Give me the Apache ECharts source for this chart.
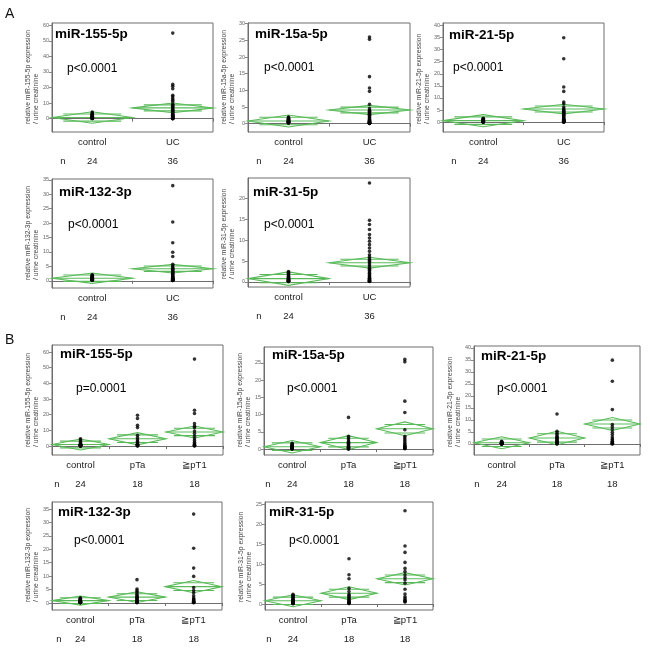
<!DOCTYPE html>
<html><head><meta charset="utf-8">
<script src="https://cdn.jsdelivr.net/npm/echarts@6/dist/echarts.min.js"></script>
<style>html,body{margin:0;padding:0;background:#fff}#c{width:650px;height:648px}</style>
</head><body><div id="c"></div>
<script>
// ---------------- DATA ----------------
const catsA = ['control', 'UC'];
const catsB = ['control', 'pTa', '≧pT1'];
const nA = ['24', '36'];
const nB = ['24', '18', '18'];

const ticks60 = [0, 10, 20, 30, 40, 50, 60];
const ticks30 = [0, 5, 10, 15, 20, 25, 30];
const ticks40 = [0, 5, 10, 15, 20, 25, 30, 35, 40];
const ticks35 = [0, 5, 10, 15, 20, 25, 30, 35];
const ticks20 = [0, 5, 10, 15, 20];
const ticks25 = [0, 5, 10, 15, 20, 25];

// Panel A: miR-155-5p
const a155_control = [4.3, 3.6, 3.2, 2.8, 2.4, 2.0, 1.8, 1.5, 1.3, 1.2, 1.0, 0.9, 0.8, 0.7, 0.6, 0.5, 0.45, 0.4, 0.3, 0.25, 0.2, 0.15, 0.1, 0.05];
const a155_UC = [55, 22, 20.8, 19.2, 15, 14, 12.8, 11.8, 10.7, 9.2, 8.5, 7.9, 7.2, 6.4, 5.8, 5.4, 4.8, 4.3, 3.8, 3.2, 2.8, 2.5, 2.1, 1.8, 1.5, 1.1, 0.9, 0.7, 0.5, 0.4, 0.3, 0.2, 0.1, 0.05, 0.02, 0];
const a155_mean = [0.7, 6.9], a155_lo = [-3.0, 3.8], a155_hi = [4.4, 10.0];

// Panel A: miR-15a-5p
const a15a_control = [2.0, 1.8, 1.6, 1.5, 1.4, 1.3, 1.2, 1.1, 1.0, 0.9, 0.85, 0.8, 0.7, 0.65, 0.6, 0.55, 0.5, 0.45, 0.4, 0.35, 0.3, 0.25, 0.2, 0.2];
const a15a_UC = [26, 25.3, 14.1, 10.7, 9.7, 5.8, 4.5, 4.0, 3.7, 3.5, 3.2, 3.0, 2.8, 2.5, 2.3, 2.0, 1.8, 1.5, 1.3, 1.0, 0.9, 0.8, 0.7, 0.6, 0.5, 0.45, 0.4, 0.35, 0.3, 0.25, 0.2, 0.2, 0.15, 0.1, 0.1, 0.05];
const a15a_mean = [0.8, 4.1], a15a_lo = [-1.0, 2.7], a15a_hi = [2.6, 5.5];

// Panel A: miR-21-5p
const a21_control = [1.6, 1.4, 1.2, 1.0, 0.9, 0.8, 0.7, 0.6, 0.55, 0.5, 0.45, 0.4, 0.35, 0.3, 0.25, 0.2, 0.2, 0.15, 0.1, 0.1, 0.05, 0.05, 0, 0];
const a21_UC = [34.9, 26.2, 14.5, 12.7, 8.3, 7.6, 6.2, 5.5, 5.0, 4.8, 4.4, 4.1, 3.8, 3.4, 3.1, 2.8, 2.5, 2.1, 1.8, 1.4, 1.2, 1.0, 0.8, 0.7, 0.6, 0.5, 0.4, 0.35, 0.3, 0.25, 0.2, 0.15, 0.1, 0.05, 0.02, 0];
const a21_mean = [0.6, 5.4], a21_lo = [-1.9, 3.4], a21_hi = [3.1, 7.4];

// Panel A: miR-132-3p
const a132_control = [2.1, 1.9, 1.7, 1.5, 1.4, 1.3, 1.2, 1.1, 1.0, 0.9, 0.8, 0.7, 0.65, 0.6, 0.55, 0.5, 0.45, 0.4, 0.35, 0.3, 0.3, 0.25, 0.2, 0.2];
const a132_UC = [33, 20.4, 13.2, 9.9, 8.4, 5.7, 5.2, 4.6, 4.3, 4.0, 3.7, 3.4, 3.1, 2.9, 2.6, 2.3, 2.0, 1.7, 1.5, 1.3, 1.1, 1.0, 0.9, 0.8, 0.7, 0.6, 0.5, 0.45, 0.4, 0.35, 0.3, 0.25, 0.2, 0.15, 0.1, 0.1];
const a132_mean = [0.9, 4.2], a132_lo = [-0.9, 2.7], a132_hi = [2.7, 5.7];

// Panel A: miR-31-5p
const a31_control = [2.5, 2.3, 2.1, 1.9, 1.7, 1.5, 1.35, 1.2, 1.1, 0.95, 0.85, 0.75, 0.65, 0.55, 0.5, 0.45, 0.4, 0.35, 0.3, 0.25, 0.2, 0.15, 0.15, 0.1];
const a31_UC = [23.6, 14.7, 13.7, 12.5, 11.3, 10.5, 9.7, 8.9, 8.1, 7.3, 6.5, 6.0, 5.5, 5.2, 4.9, 4.5, 4.1, 3.7, 3.3, 3.0, 2.8, 2.4, 2.1, 1.8, 1.5, 1.3, 1.0, 0.9, 0.8, 0.6, 0.5, 0.4, 0.3, 0.2, 0.2, 0.1];
const a31_mean = [0.8, 4.6], a31_lo = [-0.8, 3.3], a31_hi = [2.4, 5.9];

// Panel B: miR-155-5p
const b155_control = [4.7, 4.0, 3.2, 2.6, 2.0, 1.5, 1.3, 1.1, 1.0, 0.9, 0.8, 0.7, 0.6, 0.5, 0.45, 0.4, 0.35, 0.3, 0.25, 0.2, 0.15, 0.1, 0.05, 0];
const b155_pTa = [19.7, 17.6, 13.3, 11.8, 6.9, 5.4, 4.1, 3.0, 2.2, 1.5, 1.2, 1.0, 0.8, 0.6, 0.4, 0.3, 0.2, 0.1];
const b155_pT1 = [55.5, 22.9, 20.8, 14.3, 12.6, 11.8, 9.6, 8.0, 6.2, 4.7, 3.5, 2.4, 1.5, 1.0, 0.6, 0.4, 0.2, 0.1];
const b155_mean = [1.0, 4.7, 9.0], b155_lo = [-2.5, 0.8, 5.2], b155_hi = [4.5, 8.6, 12.8];

// Panel B: miR-15a-5p
const b15a_control = [1.7, 1.5, 1.25, 1.1, 1.0, 0.9, 0.8, 0.75, 0.7, 0.6, 0.55, 0.5, 0.45, 0.4, 0.35, 0.3, 0.3, 0.25, 0.2, 0.2, 0.15, 0.1, 0.1, 0.05];
const b15a_pTa = [9.2, 3.7, 3.2, 2.7, 2.2, 1.9, 1.7, 1.5, 1.25, 1.0, 0.8, 0.6, 0.5, 0.4, 0.3, 0.2, 0.1, 0];
const b15a_pT1 = [26, 25.3, 13.9, 10.6, 5.6, 3.7, 3.2, 2.7, 2.2, 1.7, 1.25, 1.0, 0.8, 0.6, 0.4, 0.3, 0.2, 0.1];
const b15a_mean = [0.7, 1.9, 5.9], b15a_lo = [-1.1, -0.1, 3.9], b15a_hi = [2.5, 3.9, 7.9];

// Panel B: miR-21-5p
const b21_control = [1.1, 0.9, 0.8, 0.7, 0.6, 0.55, 0.5, 0.45, 0.4, 0.35, 0.3, 0.3, 0.25, 0.2, 0.2, 0.15, 0.1, 0.1, 0.05, 0.05, 0, 0, 0, 0];
const b21_pTa = [12.5, 5.3, 4.6, 3.9, 3.2, 2.8, 2.5, 2.1, 1.8, 1.4, 1.1, 0.8, 0.6, 0.4, 0.3, 0.2, 0.1, 0];
const b21_pT1 = [34.9, 26.1, 14.3, 8.1, 7.1, 6.0, 4.9, 3.9, 2.9, 2.1, 1.6, 1.1, 0.8, 0.5, 0.3, 0.2, 0.1, 0];
const b21_mean = [0.5, 2.5, 8.3], b21_lo = [-2.0, -0.3, 5.6], b21_hi = [3.0, 5.3, 11.0];

// Panel B: miR-132-3p
const b132_control = [1.9, 1.7, 1.5, 1.3, 1.2, 1.0, 0.9, 0.8, 0.7, 0.65, 0.6, 0.55, 0.5, 0.45, 0.4, 0.35, 0.3, 0.3, 0.25, 0.2, 0.2, 0.15, 0.15, 0.1];
const b132_pTa = [8.7, 5.2, 4.6, 4.0, 3.3, 2.7, 2.4, 2.1, 1.8, 1.5, 1.2, 0.9, 0.7, 0.5, 0.4, 0.3, 0.2, 0.1];
const b132_pT1 = [33.1, 20.4, 13.0, 9.9, 5.8, 4.6, 3.7, 2.7, 1.9, 1.5, 1.2, 0.9, 0.6, 0.5, 0.4, 0.3, 0.2, 0.1];
const b132_mean = [0.9, 2.2, 6.1], b132_lo = [-0.8, 0.2, 3.8], b132_hi = [2.6, 4.2, 8.4];

// Panel B: miR-31-5p
const b31_control = [2.4, 2.2, 2.0, 1.8, 1.6, 1.4, 1.2, 1.0, 0.9, 0.75, 0.65, 0.55, 0.5, 0.45, 0.4, 0.35, 0.3, 0.3, 0.25, 0.2, 0.2, 0.15, 0.1, 0.1];
const b31_pTa = [11.3, 7.3, 6.3, 3.9, 3.1, 2.4, 2.1, 1.8, 1.5, 1.3, 1.0, 0.8, 0.6, 0.4, 0.35, 0.3, 0.2, 0.1];
const b31_pT1 = [23.3, 14.5, 12.9, 10.4, 8.9, 8.1, 7.3, 6.6, 6.0, 5.2, 3.7, 2.5, 1.8, 1.4, 1.0, 0.8, 0.6, 0.5];
const b31_mean = [0.8, 2.7, 6.3], b31_lo = [-0.7, 1.1, 4.75], b31_hi = [2.3, 4.3, 7.85];

// ---------------- LAYOUT ----------------
const panels = [
  {mir:'miR-155-5p', p:'p<0.0001', cats:catsA, n:nA, groups:[a155_control, a155_UC], mean:a155_mean, lo:a155_lo, hi:a155_hi, ticks:ticks60, ymin:-8.6, ymax:61.5, box:[52,23,161,109], tt:[55,34], pp:[67,69], nx:11},
  {mir:'miR-15a-5p', p:'p<0.0001', cats:catsA, n:nA, groups:[a15a_control, a15a_UC], mean:a15a_mean, lo:a15a_lo, hi:a15a_hi, ticks:ticks30, ymin:-2.5, ymax:30.2, box:[248,23,162,109], tt:[255,34], pp:[264,68], nx:11},
  {mir:'miR-21-5p', p:'p<0.0001', cats:catsA, n:nA, groups:[a21_control, a21_UC], mean:a21_mean, lo:a21_lo, hi:a21_hi, ticks:ticks40, ymin:-4.1, ymax:41, box:[443,23,161,109], tt:[449,35], pp:[453,68], nx:11},
  {mir:'miR-132-3p', p:'p<0.0001', cats:catsA, n:nA, groups:[a132_control, a132_UC], mean:a132_mean, lo:a132_lo, hi:a132_hi, ticks:ticks35, ymin:-2.5, ymax:35.3, box:[52,179,161,109], tt:[59,192], pp:[68,225], nx:11},
  {mir:'miR-31-5p', p:'p<0.0001', cats:catsA, n:nA, groups:[a31_control, a31_UC], mean:a31_mean, lo:a31_lo, hi:a31_hi, ticks:ticks20, ymin:-1.2, ymax:24.8, box:[248,178,162,109], tt:[253,192], pp:[264,225], nx:11},
  {mir:'miR-155-5p', p:'p=0.0001', cats:catsB, n:nB, groups:[b155_control, b155_pTa, b155_pT1], mean:b155_mean, lo:b155_lo, hi:b155_hi, ticks:ticks60, ymin:-5.7, ymax:64.5, box:[52,345,171,110], tt:[60,354], pp:[76,389], nx:5},
  {mir:'miR-15a-5p', p:'p<0.0001', cats:catsB, n:nB, groups:[b15a_control, b15a_pTa, b15a_pT1], mean:b15a_mean, lo:b15a_lo, hi:b15a_hi, ticks:ticks25, ymin:-1.7, ymax:29.6, box:[264,347,169,108], tt:[272,355], pp:[287,389], nx:4},
  {mir:'miR-21-5p', p:'p<0.0001', cats:catsB, n:nB, groups:[b21_control, b21_pTa, b21_pT1], mean:b21_mean, lo:b21_lo, hi:b21_hi, ticks:ticks40, ymin:-4.6, ymax:40.8, box:[474,346,166,109], tt:[481,356], pp:[497,389], nx:3},
  {mir:'miR-132-3p', p:'p<0.0001', cats:catsB, n:nB, groups:[b132_control, b132_pTa, b132_pT1], mean:b132_mean, lo:b132_lo, hi:b132_hi, ticks:ticks35, ymin:-2.6, ymax:37.6, box:[52,502,170,108], tt:[58,512], pp:[74,541], nx:7},
  {mir:'miR-31-5p', p:'p<0.0001', cats:catsB, n:nB, groups:[b31_control, b31_pTa, b31_pT1], mean:b31_mean, lo:b31_lo, hi:b31_hi, ticks:ticks25, ymin:-1.5, ymax:25.5, box:[265,502,168,108], tt:[269,512], pp:[289,541], nx:4}
];

const GREEN = '#5bbb5b';
const FONT = '"Liberation Sans", Arial, sans-serif';
const grid = [], xAxis = [], yAxis = [], series = [], graphic = [];

graphic.push({type:'text', x:5, y:14, style:{text:'A', font:'14px ' + FONT, fill:'#111', verticalAlign:'middle'}});
graphic.push({type:'text', x:5, y:340, style:{text:'B', font:'14px ' + FONT, fill:'#111', verticalAlign:'middle'}});

panels.forEach((P, i) => {
  const [l, t, w, h] = P.box;
  grid.push({left:l, top:t, width:w, height:h, show:true, borderColor:'#6e6e6e', borderWidth:1, backgroundColor:'transparent'});
  xAxis.push({
    type:'category', gridIndex:i, data:P.cats, boundaryGap:true,
    axisLine:{lineStyle:{color:'#6e6e6e'}},
    axisTick:{show:true, length:3, interval:0, lineStyle:{color:'#6e6e6e'}},
    axisLabel:{fontSize:9.5, color:'#222', margin:5, fontFamily:FONT, interval:0}
  });
  xAxis.push({
    type:'category', gridIndex:i, data:P.n, boundaryGap:true, position:'bottom', offset:19,
    axisLine:{show:false}, axisTick:{show:false},
    axisLabel:{fontSize:9.5, color:'#222', margin:5, fontFamily:FONT, interval:0}
  });
  yAxis.push({
    type:'value', gridIndex:i, min:P.ymin, max:P.ymax,
    axisLine:{show:true, lineStyle:{color:'#6e6e6e'}},
    axisTick:{show:true, length:3, customValues:P.ticks, lineStyle:{color:'#888'}},
    axisLabel:{customValues:P.ticks, fontSize:5.5, color:'#666', margin:3, fontFamily:FONT},
    splitLine:{show:false}
  });
  const xi = i * 2;
  // means diamonds
  series.push({
    type:'custom', xAxisIndex:xi, yAxisIndex:i, clip:false, z:2,
    data:P.mean.map((m, k) => [k, m, P.lo[k], P.hi[k]]),
    renderItem:(params, api) => {
      const k = api.value(0), m = api.value(1), lo = api.value(2), hi = api.value(3);
      const c = api.coord([k, m]), top = api.coord([k, hi]), bot = api.coord([k, lo]);
      const hw = api.size([1, 0])[0] / 2;
      const ovT = c[1] - (c[1] - top[1]) * 0.62, ovB = c[1] + (bot[1] - c[1]) * 0.62;
      const ow = hw * 0.72;
      const st = {stroke:GREEN, lineWidth:1.1, fill:null};
      return {type:'group', children:[
        {type:'polygon', shape:{points:[[c[0]-hw, c[1]], [c[0], top[1]], [c[0]+hw, c[1]], [c[0], bot[1]]]}, style:{stroke:GREEN, lineWidth:1.1, fill:'rgba(0,0,0,0)'}},
        {type:'line', shape:{x1:c[0]-hw, y1:c[1], x2:c[0]+hw, y2:c[1]}, style:st},
        {type:'line', shape:{x1:c[0]-ow, y1:ovT, x2:c[0]+ow, y2:ovT}, style:st},
        {type:'line', shape:{x1:c[0]-ow, y1:ovB, x2:c[0]+ow, y2:ovB}, style:st}
      ]};
    }
  });
  P.groups.forEach((vals, k) => {
    series.push({
      type:'scatter', xAxisIndex:xi, yAxisIndex:i, z:5, symbol:'circle', symbolSize:3.6,
      itemStyle:{color:'#000'}, data:vals.map(v => [k, v])
    });
  });
  // texts
  graphic.push({type:'text', x:P.tt[0], y:P.tt[1], z:10, style:{text:P.mir, font:'bold 13.5px ' + FONT, fill:'#000', verticalAlign:'middle'}});
  graphic.push({type:'text', x:P.pp[0], y:P.pp[1], z:10, style:{text:P.p, font:'12px ' + FONT, fill:'#000', verticalAlign:'middle'}});
  graphic.push({type:'text', x:l + P.nx, y:t + h + 29, style:{text:'n', font:'9.5px ' + FONT, fill:'#222', verticalAlign:'middle', align:'center'}});
  graphic.push({type:'text', x:l - 20, y:t + h - 8, rotation:Math.PI / 2,
    style:{text:'relative ' + P.mir + ' expression\n/ urine creatinine', font:'6.8px ' + FONT, fill:'#444', align:'left', verticalAlign:'middle', lineHeight:8}});
});

const chart = echarts.init(document.getElementById('c'), null, {renderer:'canvas'});
chart.setOption({animation:false, grid, xAxis, yAxis, series, graphic});
</script></body></html>
